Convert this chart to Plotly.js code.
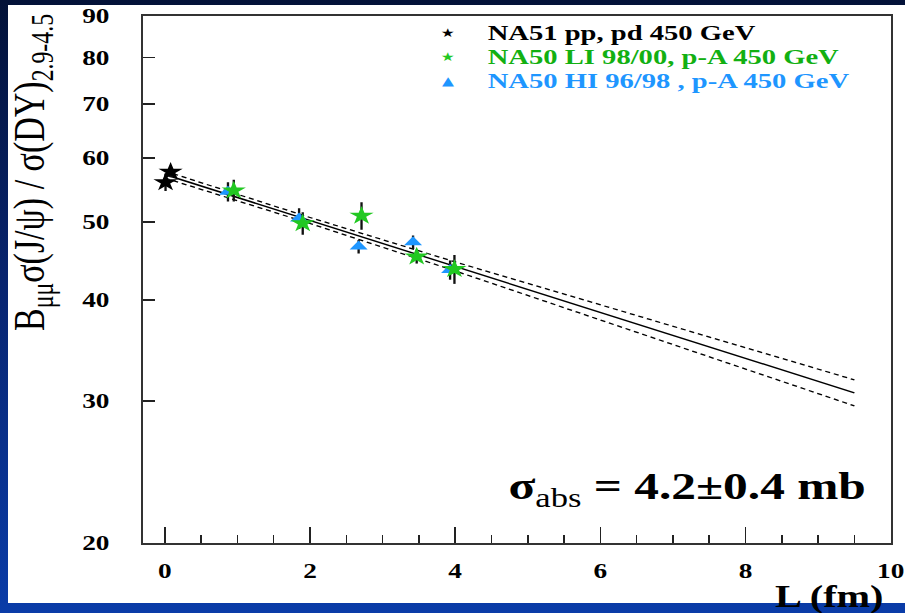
<!DOCTYPE html>
<html>
<head>
<meta charset="utf-8">
<script src="https://cdn.plot.ly/plotly-3.0.1.min.js"></script>
<style>
  html, body { margin: 0; padding: 0; width: 905px; height: 613px; overflow: hidden; }
  body { background: linear-gradient(180deg, #031238 0%, #08246e 45%, #0a3ca8 100%); position: relative; }
  #panel { position: absolute; left: 8px; top: 5px; width: 897px; height: 598px; background: #ffffff; }
  /* the figure is laid out narrow and widened horizontally */
  #chart { position: absolute; left: 0; top: 0; width: 696px; height: 613px;
           transform: scaleX(1.3003); transform-origin: 0 0; }
</style>
</head>
<body>
<div id="panel"></div>
<div id="chart"></div>
<script>
// NA51 pp / pd reference points
const na51L = [0.01, 0.08];
const na51R = [56.0, 57.7];
const na51Err = [1.4, 0.9];

// NA50 low-intensity 98/00 p-A
const liL = [0.95, 1.90, 2.71, 3.47, 3.99];
const liR = [54.7, 49.8, 50.9, 45.3, 43.7];
const liErr = [1.7, 1.6, 2.0, 0.9, 1.8];

// NA50 high-intensity 96/98 p-A
const hiL = [0.87, 1.85, 2.67, 3.42, 3.93];
const hiR = [54.5, 50.5, 46.6, 47.2, 43.6];
const hiErr = [1.5, 1.5, 0.9, 0.9, 1.2];

// Glauber fit and its error band
const fitL = [0, 2, 4, 6, 8, 9.5];
const fitR = [57.25, 50.21, 44.04, 38.62, 33.87, 30.70];
const fitHi = [57.82, 50.64, 44.61, 39.45, 34.90, 31.86];
const fitLo = [56.68, 49.78, 43.48, 37.80, 32.87, 29.58];

// axis ticks
const xTicks = [0, 2, 4, 6, 8, 10];
const yTicks = [20, 30, 40, 50, 60, 70, 80, 90];
const yTickText = ['20', '30', '40', '50', '60', '70', '80', '90'];

const GREEN = '#22c822';
const GREEN_TXT = '#12b012';
const BLUE = '#1e96ff';
const SERIF = 'Liberation Serif, Times New Roman, serif';

const errStyle = (arr) => ({ type: 'data', array: arr, visible: true, color: '#111', thickness: 1.8, width: 0 });

const traces = [
  { x: fitL, y: fitHi, mode: 'lines', line: { color: '#000', width: 1.3, dash: '4px,3px' }, hoverinfo: 'skip' },
  { x: fitL, y: fitLo, mode: 'lines', line: { color: '#000', width: 1.3, dash: '4px,3px' }, hoverinfo: 'skip' },
  { x: fitL, y: fitR, mode: 'lines', line: { color: '#000', width: 1.4 }, hoverinfo: 'skip' },
  { x: hiL, y: hiR, mode: 'markers', name: 'NA50 HI 96/98 , p-A 450 GeV',
    marker: { symbol: 'triangle-up', size: 12, color: BLUE }, error_y: errStyle(hiErr) },
  { x: liL, y: liR, mode: 'markers', name: 'NA50 LI 98/00, p-A 450 GeV',
    marker: { symbol: 'star', size: 14, color: GREEN }, error_y: errStyle(liErr) },
  { x: na51L, y: na51R, mode: 'markers', name: 'NA51 pp, pd 450 GeV',
    marker: { symbol: 'star', size: 14, color: '#000' }, error_y: errStyle(na51Err) }
];

const tickFont = { family: SERIF, size: 21, weight: 'bold', color: '#000' };

// legend rows: marker glyph, label, colours
const legendRows = [
  { glyph: '★', label: 'NA51 pp, pd 450 GeV', mcol: '#000', tcol: '#000', y: 33 },
  { glyph: '★', label: 'NA50 LI 98/00, p-A 450 GeV', mcol: GREEN, tcol: GREEN_TXT, y: 57 },
  { glyph: '▲', label: 'NA50 HI 96/98 , p-A 450 GeV', mcol: BLUE, tcol: BLUE, y: 81 }
];
const plotTop = 16, plotBottom = 543, plotLeft = 110, plotRight = 685;
const py = (pix) => (plotBottom - pix) / (plotBottom - plotTop);
const px = (pix) => (pix - plotLeft) / (plotRight - plotLeft);

const annotations = [];
legendRows.forEach(r => {
  annotations.push({ xref: 'paper', yref: 'paper', x: px(344.6), y: py(r.y), xanchor: 'center', yanchor: 'middle',
    text: r.glyph, showarrow: false, font: { family: 'DejaVu Sans', size: 12, color: r.mcol } });
  annotations.push({ xref: 'paper', yref: 'paper', x: px(373), y: py(r.y), xanchor: 'left', yanchor: 'middle',
    text: r.label, showarrow: false, font: { family: SERIF, size: 22, weight: 'bold', color: r.tcol } });
});
annotations.push({ xref: 'paper', yref: 'paper', x: px(668), y: py(489), xanchor: 'right', yanchor: 'middle',
  text: 'σ<sub><span style="font-weight:normal">abs</span></sub> = 4.2±0.4 mb', showarrow: false,
  font: { family: SERIF, size: 38, weight: 'bold', color: '#000' } });
annotations.push({ xref: 'paper', yref: 'paper', x: px(682), y: py(596), xanchor: 'right', yanchor: 'middle',
  text: 'L (fm)', showarrow: false, font: { family: SERIF, size: 31, weight: 'bold', color: '#000' } });
annotations.push({ xref: 'paper', yref: 'paper', x: px(25), y: py(173), xanchor: 'center', yanchor: 'middle',
  textangle: -90, text: 'B<sub>μμ</sub>σ(J/ψ) / σ(DY)<sub>2.9-4.5</sub>', showarrow: false,
  font: { family: SERIF, size: 34, color: '#000' } });

const layout = {
  width: 696, height: 613,
  margin: { l: plotLeft, r: 696 - plotRight, t: plotTop, b: 613 - plotBottom },
  paper_bgcolor: 'rgba(0,0,0,0)', plot_bgcolor: '#ffffff',
  showlegend: false,
  xaxis: {
    range: [-0.3, 10], tickvals: xTicks, ticks: 'inside', ticklen: 16, tickwidth: 1.3, tickcolor: '#222',
    minor: { dtick: 0.5, tick0: 0, ticks: 'inside', ticklen: 8, tickwidth: 1.2, tickcolor: '#222', showgrid: false },
    showline: true, linecolor: '#333', linewidth: 1.6, mirror: true, showgrid: false, zeroline: false,
    tickfont: tickFont, ticklabelstandoff: 8
  },
  yaxis: {
    type: 'log', range: [Math.log10(20), Math.log10(90)], tickvals: yTicks, ticktext: yTickText,
    ticks: 'inside', ticklen: 9, tickwidth: 1.3, tickcolor: '#222',
    showline: true, linecolor: '#333', linewidth: 1.6, mirror: true, showgrid: false, zeroline: false,
    tickfont: tickFont, ticklabelstandoff: 20
  },
  annotations: annotations
};

Plotly.newPlot('chart', traces, layout, { displayModeBar: false, staticPlot: true });
</script>
</body>
</html>
